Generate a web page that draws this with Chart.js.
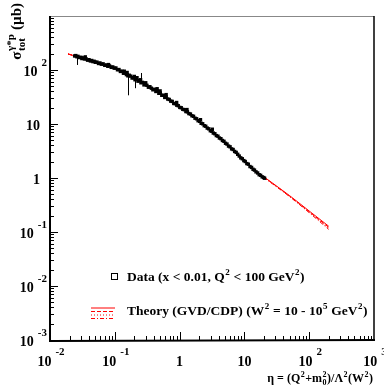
<!DOCTYPE html>
<html><head><meta charset="utf-8">
<script src="https://cdn.jsdelivr.net/npm/chart.js@4/dist/chart.umd.min.js"></script>
<style>html,body{margin:0;padding:0;background:#fff;overflow:hidden}</style>
</head><body>
<canvas id="c" width="384" height="385"></canvas>
<script>
// ---- data ----
const etaData = [0.024,0.025,0.026,0.027,0.028,0.030,0.031,0.032,0.034,0.035,0.036,0.038,0.040,0.042,0.044,0.046,0.048,0.050,0.053,0.056,0.059,0.062,0.066,0.070,0.074,0.078,0.080,0.083,0.088,0.093,0.098,0.104,0.110,0.116,0.122,0.129,0.136,0.140,0.143,0.151,0.155,0.159,0.167,0.176,0.185,0.195,0.200,0.205,0.216,0.220,0.228,0.240,0.250,0.253,0.267,0.282,0.297,0.300,0.313,0.330,0.348,0.367,0.387,0.408,0.430,0.450,0.453,0.478,0.500,0.504,0.531,0.560,0.590,0.620,0.622,0.656,0.692,0.730,0.770,0.812,0.857,0.900,0.904,0.954,1.006,1.06,1.12,1.18,1.25,1.30,1.32,1.39,1.47,1.55,1.64,1.73,1.83,1.93,2.04,2.10,2.15,2.27,2.40,2.53,2.67,2.82,2.98,3.14,3.20,3.31,3.50,3.69,3.90,4.11,4.34,4.58,4.84,5.11,5.39,5.69,6.01,6.35,6.70,7.07,7.47,7.88,8.32,8.79,9.28,9.80,10.3,10.9,11.5,12.2,12.9,13.6,14.3,15.1,16.0,16.9,17.8,18.8,19.8,20.5];
const sigmaData = [182,185,176,179,170,172,163,168,160,175,161,152,155,147,150,143,145,139,140,132,135,128,130,122,124,117,126,119,112,114,108,109,101,102,94,95,87,95,89,82,90,78,80,77,71,72,76,66,68,72,62,64,66,58,59,53,54,58,52,48,49,46,43,44,40,45,41,37,41,37.5,34,34,31,35,31.5,29,28.5,26.5,26.2,24,23.8,25,22.3,21.8,20.3,20.0,18.7,18.4,17.0,18.5,16.8,15.6,15.3,14.2,13.9,12.8,12.5,11.5,11.2,12.0,10.3,10.1,9.3,9.1,8.4,8.15,7.5,7.35,8.0,6.8,6.6,6.1,5.95,5.5,5.35,4.95,4.78,4.4,4.25,3.9,3.78,3.46,3.37,3.1,2.98,2.75,2.55,2.36,2.27,2.10,2.02,1.85,1.80,1.63,1.57,1.45,1.40,1.30,1.24,1.15,1.12,1.05,1.02,0.99];
// visible error bars (others are smaller than the markers)
const barEta = [0.026,0.159,0.205,0.250];
const barLo  = [124,34,46,58];
const barHi  = [176,88,72,88];
// theory curves (GVD/CDP), W^2 = 10 ... 10^5 GeV^2
const theoryEta = [0.019,0.05,0.1,0.158,0.3,0.46,1,1.5,4.6,10,15.8,20,50,100,200];
const theory1 = [198,141,109,81,53,39,20.6,14.7,5.0,2.15,1.29,1.05,0.47,0.245,0.128];
const theory2 = [198,141,109,81,53,39,20.6,14.7,5.0,2.14,1.28,1.04,0.46,0.238,0.122];
const theory3 = [198,141,109,81,53,39,20.6,14.7,5.0,2.13,1.27,1.03,0.455,0.232,0.117];
const theory4 = [198,141,109,81,53,39,20.6,14.7,5.0,2.12,1.26,1.02,0.45,0.228,0.112];
// ticks
const xTickVals = [0.01,0.1,1,10,100,1000];
const xTickBase = ['10','10','1','10','10','10'];
const xTickExp  = ['-2','-1','','','2','3'];
const yTickVals = [0.001,0.01,0.1,1,10,100];
const yTickBase = ['10','10','10','1','10','10'];
const yTickExp  = ['-3','-2','-1','','','2'];

const FONT = '"Liberation Serif","Times New Roman",serif';
function f(sz){ return 'bold ' + sz + 'px ' + FONT; }

function richWidth(ctx, parts, B){
  let w = 0;
  for (const [t,k] of parts){
    if (k==='n'){ ctx.font=f(B); w+=ctx.measureText(t).width; }
    else if (k==='supsub'){ const [a,b]=t.split('|'); ctx.font=f(Math.round(B*0.7)); w+=Math.max(ctx.measureText(a).width,ctx.measureText(b).width)+1; }
    else { ctx.font=f(Math.round(B*0.7)); w+=ctx.measureText(t).width+1; }
  }
  return w;
}
function drawRich(ctx, parts, x, y, B){
  ctx.textBaseline='alphabetic'; ctx.textAlign='left';
  for (const [t,k] of parts){
    if (k==='n'){ ctx.font=f(B); ctx.fillText(t,x,y); x+=ctx.measureText(t).width; }
    else if (k==='sup'){ ctx.font=f(Math.round(B*0.7)); ctx.fillText(t,x+0.5,y-B*0.45); x+=ctx.measureText(t).width+1; }
    else if (k==='sub'){ ctx.font=f(Math.round(B*0.7)); ctx.fillText(t,x+0.5,y+B*0.25); x+=ctx.measureText(t).width+1; }
    else { const [a,b]=t.split('|'); ctx.font=f(Math.round(B*0.7));
      ctx.fillText(a,x+0.5,y-B*0.45); ctx.fillText(b,x+0.5,y+B*0.28);
      x+=Math.max(ctx.measureText(a).width,ctx.measureText(b).width)+1; }
  }
  return x;
}

const framePlugin = {
  id:'frame',
  afterDatasetsDraw(chart){
    const ctx=chart.ctx, xs=chart.scales.x, ys=chart.scales.y;
    ctx.save();
    ctx.strokeStyle='#000'; ctx.lineWidth=1;
    for (let i=0;i<barEta.length;i++){
      const px=Math.round(xs.getPixelForValue(barEta[i]))+0.5;
      ctx.beginPath(); ctx.moveTo(px, ys.getPixelForValue(barLo[i])); ctx.lineTo(px, ys.getPixelForValue(barHi[i])); ctx.stroke();
    }
    ctx.restore();
  },
  afterDraw(chart){
    const ctx=chart.ctx, xs=chart.scales.x, ys=chart.scales.y, a=chart.chartArea;
    ctx.save();
    ctx.strokeStyle='#888'; ctx.lineWidth=1;
    ctx.beginPath(); ctx.moveTo(a.left,a.top+0.5); ctx.lineTo(a.right,a.top+0.5); ctx.stroke();
    ctx.strokeStyle='#000'; ctx.lineWidth=1.5;
    ctx.beginPath(); ctx.moveTo(a.right,a.top); ctx.lineTo(a.right,a.bottom); ctx.stroke();
    ctx.lineWidth=2;
    ctx.beginPath(); ctx.moveTo(a.left,a.top); ctx.lineTo(a.left,a.bottom+1); ctx.lineTo(a.right+1,a.bottom); ctx.stroke();
    ctx.lineWidth=1;
    ctx.beginPath();
    for (let e=-2;e<3;e++){
      for (let k=1;k<10;k++){
        const v=k*Math.pow(10,e); const px=Math.round(xs.getPixelForValue(v))+0.5;
        const L=(k===1)?8:4;
        ctx.moveTo(px,a.bottom); ctx.lineTo(px,a.bottom-L);
      }
    }
    for (let e=-3;e<3;e++){
      for (let k=1;k<10;k++){
        const v=k*Math.pow(10,e); const py=Math.round(ys.getPixelForValue(v))+0.5;
        const L=(k===1)?8:4;
        ctx.moveTo(a.left,py); ctx.lineTo(a.left+L,py);
      }
    }
    ctx.stroke();
    ctx.fillStyle='#000';
    const B=14, E=11;
    for (let i=0;i<xTickVals.length;i++){
      ctx.font=f(B); const wb=ctx.measureText(xTickBase[i]).width;
      let we=0; if (xTickExp[i]){ ctx.font=f(E); we=ctx.measureText(xTickExp[i]).width+4; }
      const px=xs.getPixelForValue(xTickVals[i]);
      const x0=px-(wb+we)/2+(xTickExp[i]?1:0);
      ctx.font=f(B); ctx.textAlign='left'; ctx.textBaseline='alphabetic';
      ctx.fillText(xTickBase[i],x0,366);
      if (xTickExp[i]){ ctx.font=f(E); ctx.fillText(xTickExp[i],x0+wb+4,355); }
    }
    for (let i=0;i<yTickVals.length;i++){
      const py=ys.getPixelForValue(yTickVals[i]);
      ctx.font=f(B); const wb=ctx.measureText(yTickBase[i]).width;
      let right, we=0;
      if (yTickExp[i]){ ctx.font=f(E); we=ctx.measureText(yTickExp[i]).width; right=47; }
      else right=40;
      const x0 = right - we - (we?4:0) - wb;
      ctx.font=f(B); ctx.textAlign='left'; ctx.textBaseline='alphabetic';
      ctx.fillText(yTickBase[i],x0,py+6);
      if (yTickExp[i]){ ctx.font=f(E); ctx.fillText(yTickExp[i],x0+wb+4,py-4); }
    }
    const xt=[['η = (Q','n'],['2','sup'],['+m','n'],['2|0','supsub'],[')/Λ','n'],['2','sup'],['(W','n'],['2','sup'],[')','n']];
    const wt=richWidth(ctx,xt,12);
    drawRich(ctx,xt,373-wt,382,12);
    const yt=[['σ','n'],['γ*p|tot','supsub'],[' (µb)','n']];
    const wy=richWidth(ctx,yt,15);
    ctx.save(); ctx.translate(21,3+wy); ctx.rotate(-Math.PI/2);
    drawRich(ctx,yt,0,0,15);
    ctx.restore();
    ctx.strokeStyle='#000'; ctx.lineWidth=1;
    ctx.strokeRect(111.5,273.5,6,6);
    drawRich(ctx,[['Data (x < 0.01, Q','n'],['2','sup'],[' < 100 GeV','n'],['2','sup'],[')','n']],127,281,13.5);
    ctx.strokeStyle='#ff0000';
    const dashes=[[],[4,2],[1,2],[4,2,1,2]];
    const ly=[308,311.5,315,318.5];
    for (let i=0;i<4;i++){ ctx.setLineDash(dashes[i]); ctx.beginPath(); ctx.moveTo(91,ly[i]); ctx.lineTo(115,ly[i]); ctx.stroke(); }
    ctx.setLineDash([]);
    ctx.fillStyle='#000';
    drawRich(ctx,[['Theory (GVD/CDP) (W','n'],['2','sup'],[' = 10 - 10','n'],['5','sup'],[' GeV','n'],['2','sup'],[')','n']],127,315,13.5);
    ctx.restore();
  }
};

function pts(xa,ya){ return xa.map((x,i)=>({x:x,y:ya[i]})); }
function theoryDs(arr,dash){
  return {type:'line', data:pts(theoryEta,arr), borderColor:'#ff0000', borderWidth:1, borderDash:dash,
    pointRadius:0, fill:false, cubicInterpolationMode:'monotone', order:2};
}

new Chart(document.getElementById('c'), {
  type:'scatter',
  data:{ datasets:[
    {type:'scatter', data:pts(etaData,sigmaData), pointStyle:'rect', pointRadius:2.4, backgroundColor:'#000', borderColor:'#000', borderWidth:0, order:1},
    theoryDs(theory1,[]), theoryDs(theory2,[4,2]), theoryDs(theory3,[1,2]), theoryDs(theory4,[4,2,1,2])
  ]},
  options:{
    responsive:false, animation:false, devicePixelRatio:1,
    layout:{padding:{left:50,right:10,top:16,bottom:45}},
    plugins:{legend:{display:false}, tooltip:{enabled:false}},
    scales:{
      x:{type:'logarithmic', min:0.01, max:1000, display:false},
      y:{type:'logarithmic', min:0.001, max:1000, display:false}
    }
  },
  plugins:[framePlugin]
});
</script>
</body></html>
